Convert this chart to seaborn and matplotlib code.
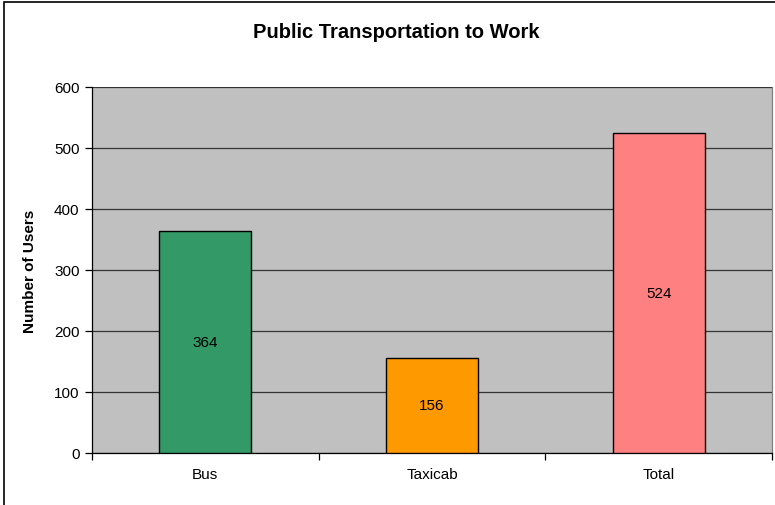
import matplotlib
matplotlib.use("Agg")
import matplotlib.pyplot as plt
import seaborn as sns
import pandas as pd
from matplotlib.patches import Rectangle
from matplotlib.ticker import FixedLocator

categories = ["Bus", "Taxicab", "Total"]
values = [364, 156, 524]
colors = ["#339966", "#FF9900", "#FF8080"]
yticks = [0, 100, 200, 300, 400, 500, 600]

sns.set_theme(style="white")
plt.rcParams['font.family'] = ['Liberation Sans', 'DejaVu Sans']
plt.rcParams['text.color'] = 'black'
plt.rcParams['axes.labelcolor'] = 'black'
plt.rcParams['xtick.color'] = 'black'
plt.rcParams['ytick.color'] = 'black'

W, H = 775, 506
fig = plt.figure(figsize=(W / 100, H / 100), dpi=100)
fig.patch.set_facecolor("white")
ax = fig.add_axes([92 / W, (H - 454) / H, 680 / W, (454 - 88) / H])
ax.set_facecolor("#C0C0C0")

df = pd.DataFrame({"cat": categories, "val": values})
sns.barplot(data=df, x="cat", y="val", hue="cat", palette=colors, legend=False,
            width=0.405, edgecolor="black", linewidth=1.0, saturation=1, ax=ax, zorder=3)

ax.set_ylim(0, 600)
ax.set_xlim(-0.5, 2.5)
ax.set_yticks(yticks)
ax.yaxis.grid(True, color="#333333", linewidth=0.9, zorder=1)
ax.set_axisbelow(True)
for p in ax.patches:
    p.set_zorder(3)

ax.tick_params(axis="y", which="major", direction="out", length=5, width=0.9,
               color="black", labelcolor="black", labelsize=11, pad=4, left=True)
ax.tick_params(axis="x", which="major", length=0, labelsize=11, labelcolor="black", pad=10)
ax.xaxis.set_minor_locator(FixedLocator([-0.5, 0.5, 1.5, 2.5]))
ax.tick_params(axis="x", which="minor", direction="out", length=5, width=0.9,
               color="black", bottom=True)

for s in ["left", "bottom"]:
    ax.spines[s].set_color("black")
    ax.spines[s].set_linewidth(0.9)
ax.spines["top"].set_visible(False)
ax.spines["right"].set_color("#808080")
ax.spines["right"].set_linewidth(0.9)

ax.set_xlabel("")
ax.set_ylabel("Number of Users", fontsize=11, fontweight="bold", color="black", labelpad=12)

for i, v in enumerate(values):
    ax.text(i, v / 2, str(v), ha="center", va="center", fontsize=11, color="black", zorder=4)

fig.text(396 / W, 1 - 33 / H, "Public Transportation to Work", ha="center", va="center",
         fontsize=14.5, fontweight="bold", color="black")

fig.patches.append(Rectangle((4 / W, -0.05), 1.0, 1 - 3 / H + 0.05, transform=fig.transFigure,
                             fill=False, edgecolor="black", linewidth=1.2))

fig.savefig("out.png", dpi=100, facecolor="white")
